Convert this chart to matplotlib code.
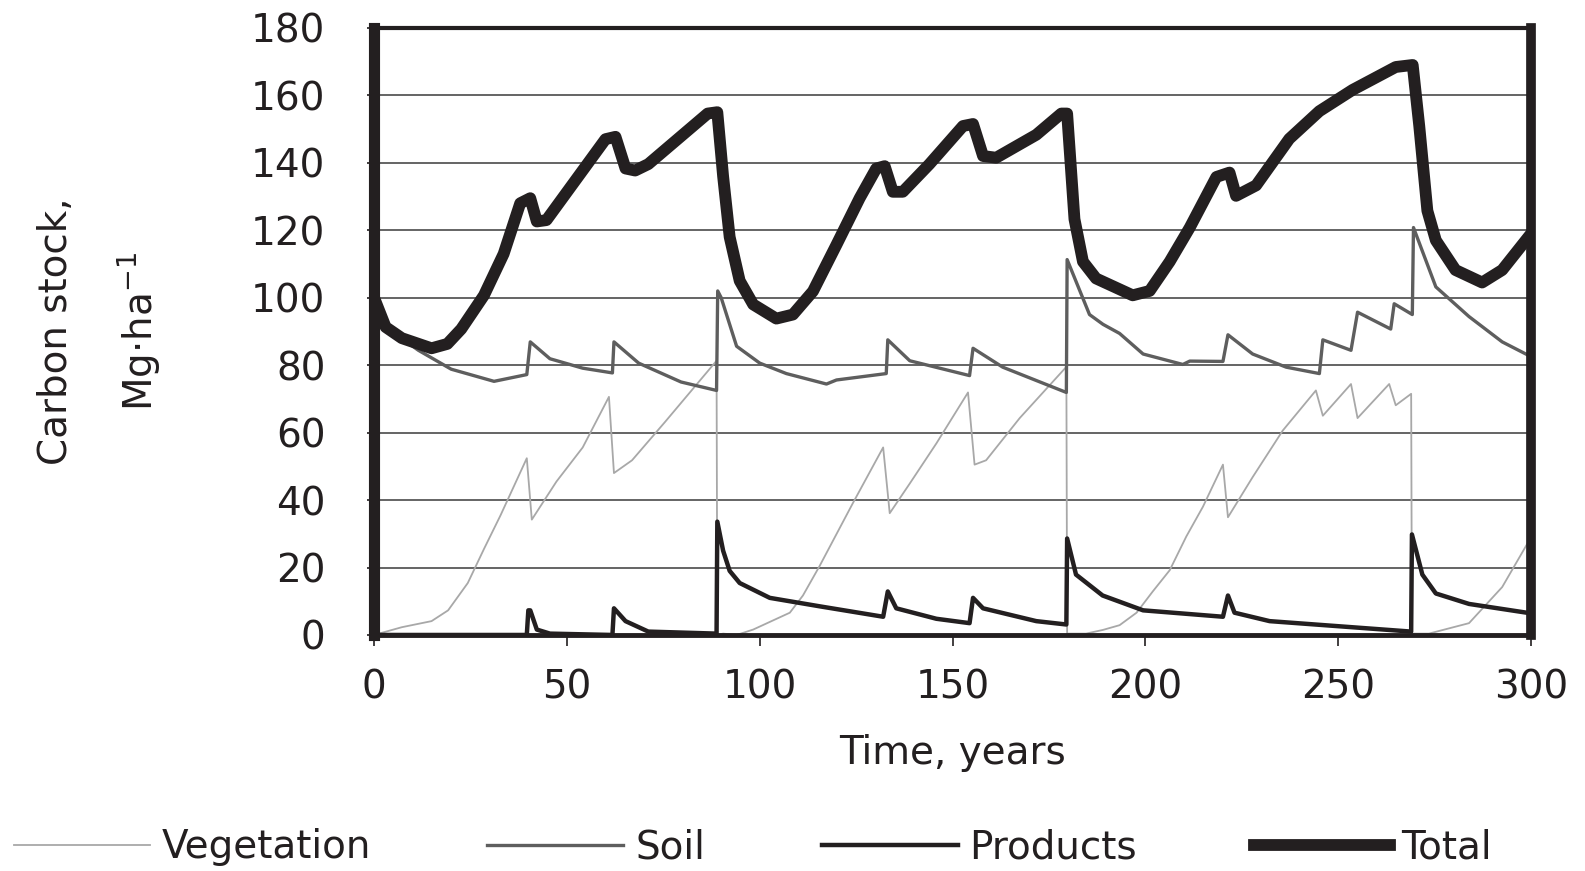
import numpy as np
import matplotlib
matplotlib.use("Agg")
from matplotlib import pyplot as plt

# values (time in years, carbon in Mg/ha)
veg_t = [0, 7.2, 14.9, 19.2, 24.3, 28.5, 32.8, 39.6, 40.9, 47.3, 54.1, 60.9, 62.2, 66.9, 75.4, 88.8, 89.0,
         90.5, 94, 98.3, 107.8, 111.2, 115.5, 124.2, 132, 133.7, 138.9, 145.8, 154, 155.7, 158.7, 167.4, 179.5,
         179.7, 184.6, 189, 193.3, 197.7, 201.9, 206.3, 210.6, 214.9, 220.1, 221.4, 227.8, 235.6, 244.2, 246,
         253.3, 255, 263.2, 264.9, 268.9, 269.1, 273.5, 283.9, 292.5, 300]
veg_v = [0, 2.3, 4.1, 7.3, 15.4, 25.5, 35.5, 52.4, 34.2, 45.5, 55.6, 70.6, 48, 51.8, 63.1, 81.3, 0,
         0.4, 0, 1.6, 6.6, 11.7, 20.4, 39.2, 55.6, 36.1, 44.9, 56.8, 71.9, 50.5, 51.8, 64.3, 79.5,
         0.4, 0.4, 1.5, 2.9, 6.6, 12.9, 19.2, 29.2, 38, 50.5, 34.9, 46.8, 60.6, 72.5, 65,
         74.4, 64.3, 74.4, 68.1, 71.5, 0.4, 0.4, 3.5, 14.2, 29]

soil_t = [0, 3, 11.5, 20, 31.1, 39.6, 40.5, 45.6, 54.1, 61.8, 62.2, 68.6, 79.6, 88.8, 89.1, 90,
          94, 100, 106.9, 117.3, 119.9, 132.8, 133.2, 138.9, 154.4, 155.3, 163, 179.5, 179.7, 185.5,
          189, 193.3, 199.4, 209.7, 211.5, 220.1, 221.4, 227.8, 236.5, 245.1, 246, 253.3, 255, 263.6,
          264.5, 269.2, 269.5, 275.3, 283.9, 292.5, 300]
soil_v = [99.5, 91.3, 84.4, 78.8, 75.2, 77.2, 86.9, 81.9, 79.1, 77.7, 86.9, 80.6, 75, 72.5, 102, 100,
          85.6, 80.6, 77.5, 74.4, 75.6, 77.5, 87.5, 81.3, 76.9, 85, 79.4, 71.9, 111.3, 95,
          92.1, 89.4, 83.3, 80.2, 81.2, 81.1, 89, 83.3, 79.4, 77.5, 87.5, 84.4, 95.7, 90.7,
          98.2, 95, 120.8, 103.2, 94.4, 86.9, 82.5]

prod_t = [0, 39.6, 40.0, 40.5, 42.2, 45.6, 61.8, 62.2, 65.2, 71.1, 88.8, 89.0, 90.5, 92.2, 94.8, 102.6, 115.5,
          132, 133.2, 135.4, 145.8, 154.4, 155.3, 157.9, 171.7, 179.5, 179.7, 182, 188.9, 199.4,
          220.1, 221.4, 223.1, 232.2, 268.9, 269.1, 271.8, 275.3, 283.9, 300]
prod_v = [0, 0, 7.3, 7.3, 1.6, 0.4, 0, 7.9, 4.1, 1, 0.4, 33.6, 25, 19, 15.4, 11, 8.5,
          5.4, 12.9, 7.9, 4.8, 3.5, 11, 7.9, 4.1, 3.1, 28.6, 17.9, 11.7, 7.3,
          5.4, 11.7, 6.6, 4.1, 1, 29.8, 17.9, 12.3, 9.2, 6.4]

total_t = [0, 3, 7.2, 14.9, 19, 22.6, 28.5, 33.6, 37.9, 40.5, 42.2, 44.7, 49.8, 60, 62.6, 65.2, 67.7,
           71.1, 86.5, 89.0, 90.5, 92.2, 94.8, 98.3, 104.3, 108.6, 113.8, 119.9, 125.9, 130.2, 132.4,
           134.5, 137.1, 144, 152.7, 155.3, 157.9, 161.3, 171.7, 178.2, 179.7, 181.6, 183.8, 187.2,
           196.7, 201.1, 206.3, 211.5, 218.4, 221.8, 223.5, 228.7, 237.3, 245.1, 253.7, 264.9, 269.3,
           271, 273.1, 275.3, 280.4, 287.3, 292.5, 300]
total_v = [100, 91.3, 88, 85, 86.3, 90.7, 100.7, 113, 128, 129.5, 122.6, 123, 131, 147, 147.7, 138.3, 137.7,
           139.6, 154.6, 155, 136, 118, 105, 98, 93.8, 95, 101.9, 115.7, 129.5, 138.3, 139,
           131.4, 131.4, 139.6, 150.9, 151.5, 142, 141.5, 148.3, 154.6, 154.6, 123.3, 110.7, 105.7,
           100.7, 102, 110.7, 120.8, 135.8, 137.1, 130.2, 133.3, 147.1, 155.3, 161.6, 168.4, 169,
           150.9, 125.8, 117, 108.2, 104.5, 108.2, 119]

x_ticks = [0, 50, 100, 150, 200, 250, 300]
y_ticks = list(range(0, 181, 20))

ink = '#231f20'
plt.rcParams['font.family'] = ['DejaVu Sans']

fig = plt.figure(figsize=(15.85, 8.71), dpi=100)
ax = fig.add_axes([0.236, 0.271, 0.730, 0.697])

ax.plot(veg_t, veg_v, color='#a8a8a8', lw=1.3, label='Vegetation', zorder=3)
ax.plot(soil_t, soil_v, color='#5e5e5e', lw=2.4, label='Soil', zorder=4)
ax.plot(prod_t, prod_v, color=ink, lw=3.2, label='Products', zorder=5)
ax.plot(total_t, total_v, color=ink, lw=8.5, label='Total', zorder=6)

ax.set_xlim(0, 300)
ax.set_ylim(0, 180)
ax.set_xticks(x_ticks)
ax.set_yticks(y_ticks)
ax.yaxis.grid(True, color='#3a3a3a', lw=1.1)
ax.set_axisbelow(True)

ax.spines['left'].set_linewidth(8)
ax.spines['right'].set_linewidth(7)
ax.spines['top'].set_linewidth(3)
ax.spines['bottom'].set_linewidth(3.5)
for s in ax.spines.values():
    s.set_color(ink)
    s.set_zorder(7)

ax.tick_params(axis='x', length=8, width=1.2, color=ink, pad=16, labelsize=28, labelcolor=ink)
ax.tick_params(axis='y', length=5, width=1.2, color=ink, pad=30, labelsize=28, labelcolor=ink)

ax.set_xlabel('Time, years', fontsize=28, color=ink, labelpad=20)
ax.set_ylabel('Carbon stock,\nMg\u00b7ha$^{-1}$', fontsize=28, color=ink, linespacing=2.1)
ax.yaxis.set_label_coords(-0.183, 0.5)

fig.legend(loc='lower center', bbox_to_anchor=(0.475, -0.035), ncol=4, frameon=False,
           fontsize=28, handlelength=3.5, handletextpad=0.3, columnspacing=3.0,
           labelcolor=ink)

fig.savefig('out.png', dpi=100)
